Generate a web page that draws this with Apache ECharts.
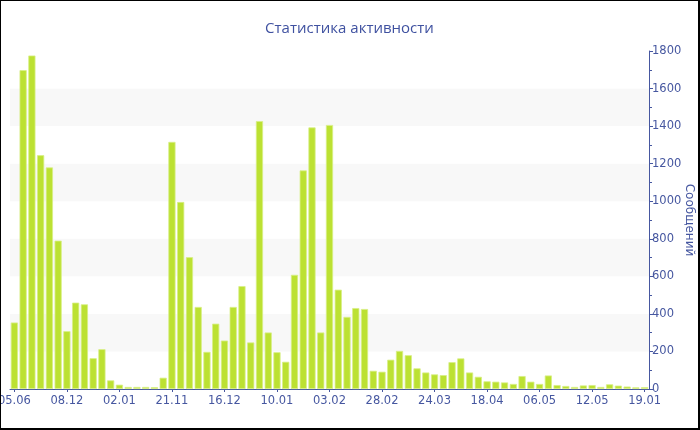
<!DOCTYPE html>
<html>
<head>
<meta charset="utf-8">
<script src="https://cdn.jsdelivr.net/npm/echarts@6/dist/echarts.min.js"></script>
<style>
html,body{margin:0;padding:0;background:#fff;}
#c{width:700px;height:430px;box-sizing:border-box;border-top:1px solid #000;border-left:1px solid #000;border-right:2px solid #000;border-bottom:2px solid #000;}
</style>
</head>
<body>
<div id="c"></div>
<script>
var labelDates = ['05.06','08.12','02.01','21.11','16.12','10.01','03.02','28.02','24.03','18.04','06.05','12.05','19.01'];
var values = [354,1698,1776,1245,1180,790,308,460,451,164,212,46,23,11,11,11,10,60,
  1316,996,702,437,198,348,258,437,548,248,1427,301,196,145,608,1164,1393,301,1406,529,
  384,431,426,97,92,156,203,180,110,88,78,74,143,163,88,65,41,39,35,27,69,39,27,72,21,16,
  11,19,21,11,25,18,13,9,10];
var yTicks = {min:0, max:1800, interval:200};
var categories = values.map(function(v,i){ return i % 6 === 0 ? labelDates[i/6] : ''; });

var chart = echarts.init(document.getElementById('c'));
var blue = '#4657a0';
chart.setOption({
  animation:false,
  title:{text:'Статистика активности', left:'center', top:15,
    textStyle:{color:'#3f51a0', fontSize:15, fontWeight:'normal', fontFamily:'Open Sans'}},
  grid:{left:9, right:49, top:50, bottom:39, containLabel:false, outerBoundsMode:'none'},
  xAxis:{type:'category', data:categories,
    axisLine:{lineStyle:{color:blue, width:1}},
    axisTick:{show:true, alignWithLabel:true, interval:5, length:3, lineStyle:{color:blue}},
    axisLabel:{interval:5, color:blue, fontSize:11.5, fontFamily:'DejaVu Sans', margin:6, hideOverlap:false}},
  yAxis:{type:'value', position:'right', min:yTicks.min, max:yTicks.max, interval:yTicks.interval,
    name:'Сообщений', nameLocation:'middle', nameRotate:-90, nameGap:34, nameMoveOverlap:false,
    nameTextStyle:{color:blue, fontSize:12, fontFamily:'DejaVu Sans'},
    axisLine:{show:true, lineStyle:{color:blue}},
    axisTick:{show:true, length:4, inside:false, lineStyle:{color:blue}},
    minorTick:{show:true, splitNumber:2, length:3, lineStyle:{color:blue}},
    axisLabel:{color:blue, fontSize:11.5, fontFamily:'DejaVu Sans', margin:3,
      formatter:function(v){ return String(v); }},
    splitLine:{show:false},
    splitArea:{show:true, areaStyle:{color:['#ffffff','#f8f8f8']}}},
  series:[{type:'bar', data:values, barCategoryGap:'18%',
    itemStyle:{color:'#bce132', borderColor:'#d8ef86', borderWidth:0.8}}]
});
</script>
</body>
</html>
